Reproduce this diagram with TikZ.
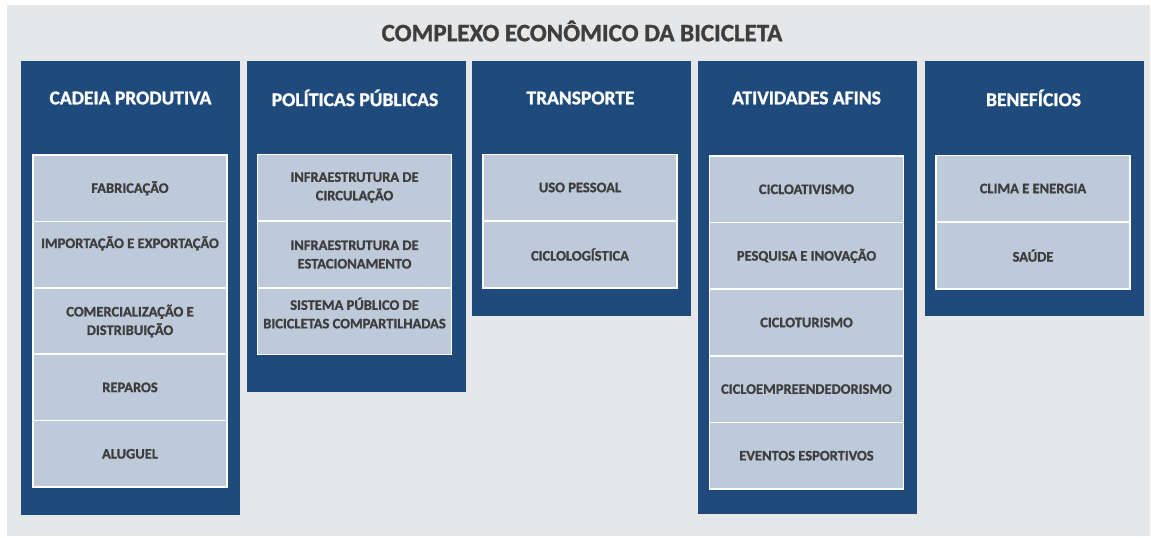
\documentclass[tikz,border=0pt]{standalone}
\usepackage{fontspec}
\setmainfont{Carlito}[BoldFeatures={FakeBold=1.2}]
\definecolor{navy}{RGB}{30,74,124}
\definecolor{boxblue}{RGB}{190,201,218}
\definecolor{panelgray}{RGB}{230,231,233}
\definecolor{ink}{RGB}{62,62,62}

\begin{document}
\begin{tikzpicture}[x=1pt,y=-1pt,
    panel/.style={fill=panelgray, anchor=north west, inner sep=0pt, minimum width=1143pt, minimum height=531pt},
    column/.style={fill=navy, anchor=north west, inner sep=0pt, minimum width=219pt},
    head/.style={text=white, font=\bfseries\fontsize{19.5}{20}\selectfont},
    item/.style={fill=boxblue, draw=white, line width=1.5pt, minimum width=194pt, minimum height=66.5pt,
        inner sep=0pt, text=ink, align=center, font=\bfseries\fontsize{14.5}{18.5}\selectfont},
    raised/.style={text depth=25pt}]

    \useasboundingbox (0,0) rectangle (1151,538);

    % fundo
    \node[panel] (complexo) at (7,5) {};
    \node[text=ink, font=\bfseries\fontsize{25}{26}\selectfont] (titulo) at (582,31) {COMPLEXO ECONÔMICO DA BICICLETA};

    % col_cadeia
    \node[column, minimum height=454pt] (cadeia) at (21,61) {};
    \node[head] (cadeiaT) at (130.5,98) {CADEIA PRODUTIVA};
    \node[item] (fabricacao) at (130,188.2) {FABRICAÇÃO};
    \node[item, raised] (importacao) at (130,254.6) {IMPORTAÇÃO E EXPORTAÇÃO};
    \node[item] (comercializacao) at (130,321) {COMERCIALIZAÇÃO E\\DISTRIBUIÇÃO};
    \node[item] (reparos) at (130,387.4) {REPAROS};
    \node[item] (aluguel) at (130,453.8) {ALUGUEL};

    % col_politicas
    \node[column, minimum height=331pt] (politicas) at (247,61) {};
    \node[head] (politicasT) at (355,98) {POLÍTICAS PÚBLICAS};
    \node[item] (circulacao) at (354.5,187.5) {INFRAESTRUTURA DE\\CIRCULAÇÃO};
    \node[item] (estacionamento) at (354.5,254.5) {INFRAESTRUTURA DE\\ESTACIONAMENTO};
    \node[item, text depth=16pt] (compartilhadas) at (354.5,321) {SISTEMA PÚBLICO DE\\BICICLETAS COMPARTILHADAS};

    % col_transporte
    \node[column, minimum height=255pt] (transporte) at (472,61) {};
    \node[head] (transporteT) at (580.5,98) {TRANSPORTE};
    \node[item] (pessoal) at (580,187.5) {USO PESSOAL};
    \node[item] (logistica) at (580,254.5) {CICLOLOGÍSTICA};

    % col_atividades
    \node[column, minimum height=453pt] (atividades) at (698,61) {};
    \node[head] (atividadesT) at (806.5,98) {ATIVIDADES AFINS};
    \node[item] (ativismo) at (806.5,189.3) {CICLOATIVISMO};
    \node[item] (pesquisa) at (806.5,255.9) {PESQUISA E INOVAÇÃO};
    \node[item] (turismo) at (806.5,322.5) {CICLOTURISMO};
    \node[item] (empreendedorismo) at (806.5,389.1) {CICLOEMPREENDEDORISMO};
    \node[item] (eventos) at (806.5,455.7) {EVENTOS ESPORTIVOS};

    % col_beneficios
    \node[column, minimum height=255pt] (beneficios) at (925,61) {};
    \node[head] (beneficiosT) at (1033.5,98) {BENEFÍCIOS};
    \node[item] (clima) at (1033,188.5) {CLIMA E ENERGIA};
    \node[item] (saude) at (1033,255.5) {SAÚDE};

\end{tikzpicture}
\end{document}
